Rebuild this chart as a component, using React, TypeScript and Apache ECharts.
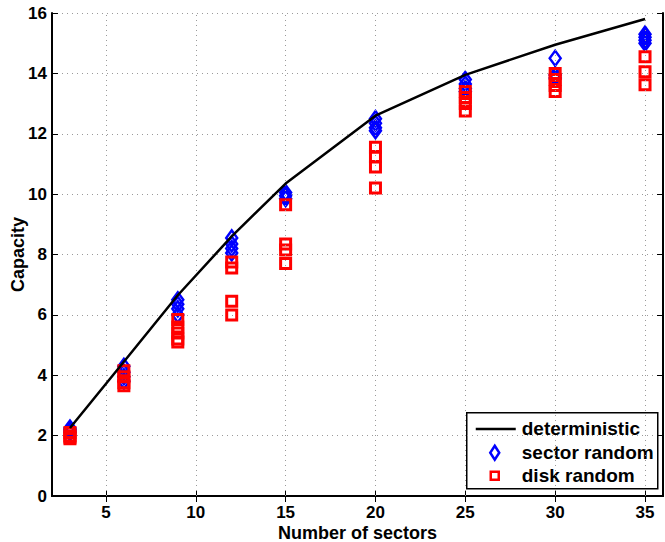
import React, { useEffect, useRef } from "react";
import * as echarts from "echarts";

const sectorsCount = [3, 6, 9, 12, 15, 20, 25, 30, 35];
const deterministic = [2.25, 4.45, 6.65, 8.6, 10.35, 12.6, 13.95, 14.95, 15.8];

const sectorRandom: number[][] = [
  [2.25, 2.2, 2.15, 2.1],
  [4.3, 4.1, 3.95, 3.8],
  [6.5, 6.35, 6.2, 6.0],
  [8.55, 8.35, 8.2, 8.05],
  [10.05, 9.95, 9.85],
  [12.5, 12.35, 12.2, 12.1],
  [13.8, 13.65, 13.5, 13.4],
  [14.5, 13.95, 13.85],
  [15.3, 15.2, 15.1, 15.0],
];

const diskRandom: number[][] = [
  [2.1, 2.0, 1.95, 1.9],
  [4.15, 3.95, 3.75, 3.65],
  [5.85, 5.6, 5.4, 5.2, 5.1],
  [7.75, 7.55, 6.45, 6.0],
  [9.65, 8.35, 8.15, 7.7],
  [11.55, 11.25, 10.9, 10.2],
  [13.4, 13.2, 13.0, 12.75],
  [14.0, 13.8, 13.6, 13.4],
  [14.55, 14.05, 13.62],
];

const xTicks = [5, 10, 15, 20, 25, 30, 35];
const legendNames = ["deterministic", "sector random", "disk random"];

const FONT = '"Liberation Sans", Arial, Helvetica, sans-serif';

export default function App() {
  const ref = useRef<HTMLDivElement>(null);
  useEffect(() => {
    if (!ref.current) return;
    const chart = echarts.init(ref.current, null, { renderer: "svg" });

    const toPairs = (groups: number[][]) =>
      groups.flatMap((vals, i) => vals.map((v) => [sectorsCount[i], v]));

    const gridColor = "#9a9a9a";
    const axisCommon = {
      axisLine: { show: true, lineStyle: { color: "#000", width: 2 } },
      splitLine: { show: false },
    };

    const option: any = {
      animation: false,
      backgroundColor: "#fff",
      grid: { left: 52, right: 2, top: 13, bottom: 46, containLabel: false, outerBoundsMode: "none" },
      xAxis: [
        {
          ...axisCommon,
          type: "value",
          position: "bottom",
          min: 2,
          max: 36,
          axisTick: { show: true, inside: true, length: 6, customValues: xTicks, lineStyle: { color: "#000", width: 1 } },
          axisLabel: {
            show: true,
            customValues: xTicks,
            margin: 8,
            color: "#000",
            fontFamily: FONT,
            fontWeight: "bold",
            fontSize: 17,
          },
          name: "Number of sectors",
          nameLocation: "middle",
          nameGap: 28,
          nameMoveOverlap: false,
          nameTextStyle: { color: "#000", fontFamily: FONT, fontWeight: "bold", fontSize: 18 },
        },
        {
          ...axisCommon,
          type: "value",
          position: "top",
          min: 2,
          max: 36,
          axisTick: { show: true, inside: true, length: 6, customValues: xTicks, lineStyle: { color: "#000", width: 1 } },
          axisLabel: { show: false },
        },
      ],
      yAxis: [
        {
          ...axisCommon,
          type: "value",
          position: "left",
          min: 0,
          max: 16,
          interval: 2,
          axisTick: { show: true, inside: true, length: 6, lineStyle: { color: "#000", width: 1 } },
          axisLabel: {
            show: true,
            margin: 5,
            color: "#000",
            fontFamily: FONT,
            fontWeight: "bold",
            fontSize: 17,
          },
          splitLine: { show: true, lineStyle: { color: gridColor, type: [1, 4], width: 1 } },
          name: "Capacity",
          nameLocation: "middle",
          nameGap: 25,
          nameRotate: 90,
          nameMoveOverlap: false,
          nameTextStyle: { color: "#000", fontFamily: FONT, fontWeight: "bold", fontSize: 18 },
        },
        {
          ...axisCommon,
          type: "value",
          position: "right",
          min: 0,
          max: 16,
          interval: 2,
          axisTick: { show: true, inside: true, length: 6, lineStyle: { color: "#000", width: 1 } },
          axisLabel: { show: false },
        },
      ],
      series: [
        {
          name: "grid",
          type: "scatter",
          data: [],
          z: 1,
          silent: true,
          markLine: {
            silent: true,
            symbol: ["none", "none"],
            label: { show: false },
            lineStyle: { color: gridColor, type: [1, 4], width: 1 },
            data: xTicks.map((x) => ({ xAxis: x })),
          },
        },
        {
          name: legendNames[1],
          type: "scatter",
          z: 3,
          symbol: "diamond",
          symbolSize: [11, 15],
          itemStyle: { color: "rgba(0,0,0,0)", borderColor: "#0000ff", borderWidth: 2.5, opacity: 1 },
          data: toPairs(sectorRandom),
        },
        {
          name: legendNames[2],
          type: "scatter",
          z: 4,
          symbol: "rect",
          symbolSize: 10,
          itemStyle: { color: "rgba(0,0,0,0)", borderColor: "#ff0000", borderWidth: 3, opacity: 1 },
          data: toPairs(diskRandom),
        },
        {
          name: legendNames[0],
          type: "line",
          z: 5,
          showSymbol: false,
          symbol: "none",
          lineStyle: { color: "#000", width: 2.5 },
          data: sectorsCount.map((x, i) => [x, deterministic[i]]),
        },
      ],
      graphic: [
        {
          type: "group",
          left: 466,
          top: 412,
          z: 100,
          children: [
            { type: "rect", shape: { x: 0, y: 0, width: 191, height: 76 }, style: { fill: "#fff", stroke: "#000", lineWidth: 1.5 } },
            { type: "rect", shape: { x: 9, y: 15, width: 40, height: 2.5 }, style: { fill: "#000" } },
            {
              type: "polygon",
              shape: { points: [[28, 33], [32.5, 40], [28, 47], [23.5, 40]] },
              style: { fill: "none", stroke: "#0000ff", lineWidth: 2.5 },
            },
            { type: "rect", shape: { x: 24, y: 59, width: 8, height: 8 }, style: { fill: "none", stroke: "#ff0000", lineWidth: 2.5 } },
            { type: "text", x: 55, y: 16, style: { text: legendNames[0], fill: "#000", font: `bold 19px ${FONT}`, verticalAlign: "middle" } },
            { type: "text", x: 55, y: 40, style: { text: legendNames[1], fill: "#000", font: `bold 19px ${FONT}`, verticalAlign: "middle" } },
            { type: "text", x: 55, y: 63, style: { text: legendNames[2], fill: "#000", font: `bold 19px ${FONT}`, verticalAlign: "middle" } },
          ],
        },
      ],
    };

    chart.setOption(option);
    return () => chart.dispose();
  }, []);

  return (
    <div
      ref={ref}
      style={{ position: "fixed", left: 0, top: 0, width: 665, height: 542, background: "#fff" }}
    />
  );
}
